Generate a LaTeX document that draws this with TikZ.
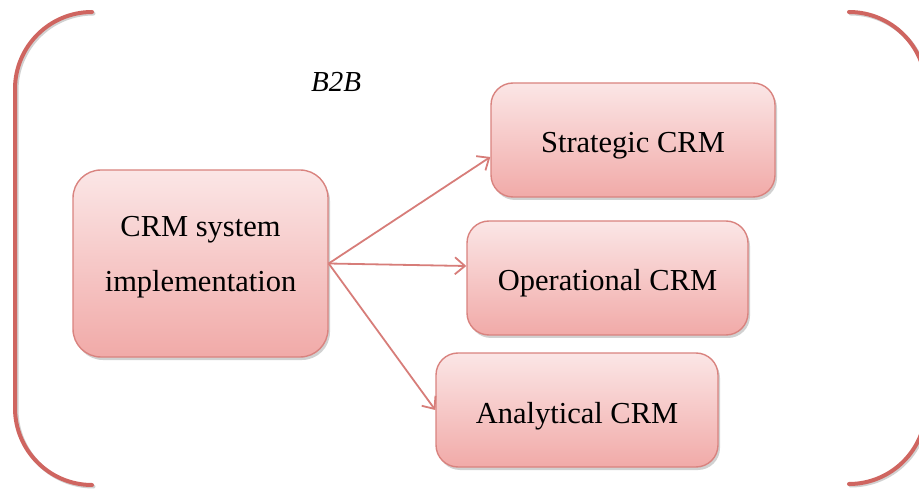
\documentclass[tikz,border=0pt]{standalone}
\usepackage{fontspec}
\setmainfont{Liberation Serif}
\usetikzlibrary{arrows.meta,shadows}

\definecolor{frameRed}{HTML}{CF6560}
\definecolor{boxEdge}{HTML}{D9837F}
\definecolor{boxTop}{HTML}{FBE6E6}
\definecolor{boxBottom}{HTML}{F1AAA8}
\definecolor{linkRed}{HTML}{D77D79}

\tikzset{
  crmbox/.style={
    draw=boxEdge, line width=1.4pt, rounded corners=22pt,
    top color=boxTop, bottom color=boxBottom,
    drop shadow={shadow xshift=2pt, shadow yshift=-3pt, opacity=0.3, fill=black!60},
    font=\fontsize{30.5}{55}\selectfont, align=center, inner sep=0pt
  },
  smallbox/.style={crmbox, minimum height=114pt, text height=26pt, text depth=0pt},
  link/.style={draw=linkRed, line width=1.8pt,
    -{Straight Barb[length=10pt,width=17pt,line width=1.8pt]}},
  frame/.style={draw=frameRed, line width=4pt, line cap=round}
}

\begin{document}
\begin{tikzpicture}[x=1pt,y=1pt]
\useasboundingbox (0,0) rectangle (919,488);

% side brackets with a faint shadow
\foreach \dx/\dy/\col/\op in {1.5/-1.5/black/0.18, 0/0/frameRed/1}{
  \draw[frame, draw=\col, draw opacity=\op, shift={(\dx,\dy)}]
    (92,476) arc[start angle=90, end angle=180, radius=77]
    -- (15,80) arc[start angle=180, end angle=270, radius=77];
  \draw[frame, draw=\col, draw opacity=\op, shift={(\dx,\dy)}]
    (849,476) arc[start angle=90, end angle=0, radius=77]
    -- (926,81) arc[start angle=0, end angle=-90, radius=77];
}

\node[font=\fontsize{29}{34}\selectfont\itshape, anchor=base, inner sep=0pt]
  (b2b) at (336,396) {B2B};

\node[crmbox, rounded corners=28pt, minimum width=255pt, minimum height=187pt]
  (crm) at (200.5,224.5) {CRM system\\implementation\rule[-19pt]{0pt}{1pt}};

\node[smallbox, minimum width=284pt] (strat) at (633,348) {Strategic CRM};
\node[smallbox, minimum width=281pt] (oper)  at (607.5,210) {Operational CRM};
\node[smallbox, minimum width=282pt] (anal)  at (577,78) {Analytical CRM};

\draw[link] (crm.east) -- ([yshift=-17pt]strat.west);
\draw[link] (crm.east) -- ([yshift=12pt]oper.west);
\draw[link] (crm.east) -- (anal.west);
\end{tikzpicture}
\end{document}
